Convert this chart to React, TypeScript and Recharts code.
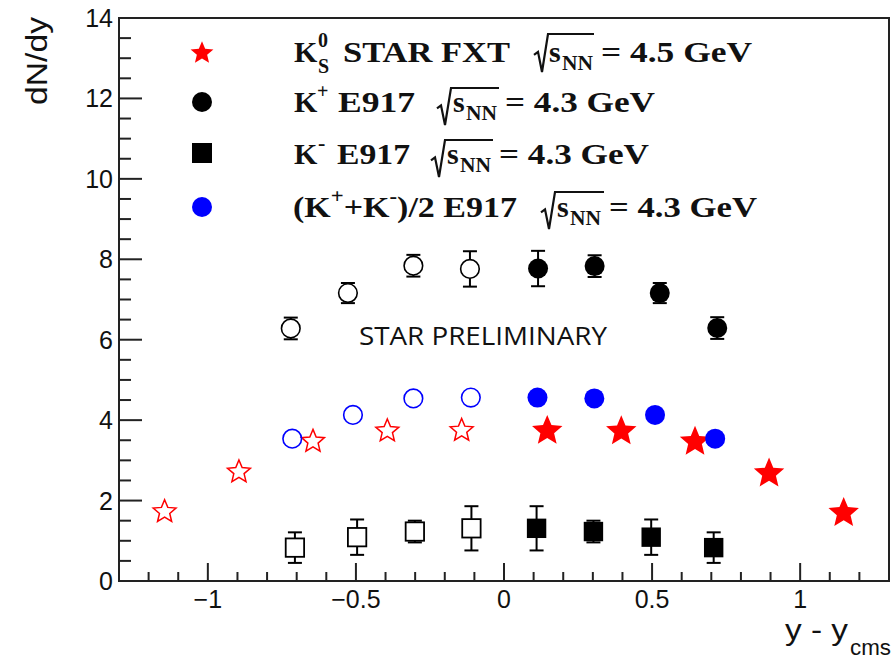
import React from 'react';
import { ScatterChart, Scatter, XAxis, YAxis, ErrorBar, ReferenceArea } from 'recharts';

// ---- data ----
// K+ E917 (measured, filled)
const kPlusRapidity = [0.115, 0.306, 0.526, 0.72];
const kPlusYield = [7.77, 7.83, 7.16, 6.29];
const kPlusError = [0.44, 0.27, 0.25, 0.27];
// K+ E917 (reflected, open)
const kPlusReflRapidity = [-0.72, -0.527, -0.306, -0.115];
const kPlusReflYield = [6.28, 7.16, 7.84, 7.76];
const kPlusReflError = [0.27, 0.25, 0.27, 0.44];

// K- E917 (measured, filled)
const kMinusRapidity = [0.11, 0.302, 0.497, 0.708];
const kMinusYield = [1.31, 1.23, 1.09, 0.83];
const kMinusError = [0.55, 0.27, 0.44, 0.38];
// K- E917 (reflected, open)
const kMinusReflRapidity = [-0.706, -0.496, -0.301, -0.11];
const kMinusReflYield = [0.83, 1.09, 1.23, 1.31];
const kMinusReflError = [0.38, 0.44, 0.27, 0.55];

// (K+ + K-)/2 E917 (measured, filled)
const kAvgRapidity = [0.113, 0.305, 0.51, 0.713];
const kAvgYield = [4.56, 4.54, 4.13, 3.54];
// (K+ + K-)/2 E917 (reflected, open)
const kAvgReflRapidity = [-0.715, -0.51, -0.306, -0.112];
const kAvgReflYield = [3.54, 4.13, 4.54, 4.56];

// K0S STAR FXT (measured, filled)
const k0sRapidity = [0.146, 0.396, 0.645, 0.895, 1.147];
const k0sYield = [3.77, 3.76, 3.5, 2.71, 1.73];
// K0S STAR FXT (reflected, open)
const k0sReflRapidity = [-1.146, -0.895, -0.645, -0.394, -0.143];
const k0sReflYield = [1.75, 2.74, 3.5, 3.76, 3.77];

// axis ticks
const xTicks = [-1.2, -1.1, -1.0, -0.9, -0.8, -0.7, -0.6, -0.5, -0.4, -0.3, -0.2, -0.1, 0, 0.1, 0.2, 0.3, 0.4, 0.5, 0.6, 0.7, 0.8, 0.9, 1.0, 1.1, 1.2];
const xMajorTicks = [-1, -0.5, 0, 0.5, 1];
const xMajorLabels = ['\u22121', '\u22120.5', '0', '0.5', '1'];
const yTicks = [0, 0.5, 1, 1.5, 2, 2.5, 3, 3.5, 4, 4.5, 5, 5.5, 6, 6.5, 7, 7.5, 8, 8.5, 9, 9.5, 10, 10.5, 11, 11.5, 12, 12.5, 13, 13.5, 14];
const yMajorTicks = [0, 2, 4, 6, 8, 10, 12, 14];
const yMajorLabels = ['0', '2', '4', '6', '8', '10', '12', '14'];

const X_DOMAIN = [-1.3, 1.3];
const Y_DOMAIN = [0, 14];

const build = (xs: number[], ys: number[], errs?: number[]) =>
  xs.map((x, i) => ({ x, y: ys[i], err: errs ? errs[i] : 0 }));

const kPlusData = build(kPlusRapidity, kPlusYield, kPlusError);
const kPlusReflData = build(kPlusReflRapidity, kPlusReflYield, kPlusReflError);
const kMinusData = build(kMinusRapidity, kMinusYield, kMinusError);
const kMinusReflData = build(kMinusReflRapidity, kMinusReflYield, kMinusReflError);
const kAvgData = build(kAvgRapidity, kAvgYield);
const kAvgReflData = build(kAvgReflRapidity, kAvgReflYield);
const k0sData = build(k0sRapidity, k0sYield);
const k0sReflData = build(k0sReflRapidity, k0sReflYield);

const AXIS_COLOR = '#222';
const SANS = '"Liberation Sans", Arial, sans-serif';
const SERIF = '"Liberation Serif", "Times New Roman", serif';

function starPath(cx: number, cy: number, R: number, ratio: number) {
  const r = R * ratio;
  const c = cy + 0.095 * R;
  let d = '';
  for (let i = 0; i < 10; i++) {
    const a = -Math.PI / 2 + (i * Math.PI) / 5;
    const rad = i % 2 === 0 ? R : r;
    d += (i === 0 ? 'M' : 'L') + (cx + rad * Math.cos(a)).toFixed(2) + ',' + (c + rad * Math.sin(a)).toFixed(2);
  }
  return d + 'Z';
}

const NoShape = () => <g />;
const FilledCircle = (color: string) => (p: any) =>
  p.cx == null ? <g /> : <circle cx={p.cx} cy={p.cy} r={10} fill={color} />;
const OpenCircle = (color: string, fill: string) => (p: any) =>
  p.cx == null ? <g /> : <circle cx={p.cx} cy={p.cy} r={9.3} fill={fill} stroke={color} strokeWidth={1.6} />;
const FilledSquare = (p: any) =>
  p.cx == null ? <g /> : <rect x={p.cx - 9.7} y={p.cy - 9.7} width={19.4} height={19.4} fill="#000" />;
const OpenSquare = (p: any) =>
  p.cx == null ? <g /> : <rect x={p.cx - 9.2} y={p.cy - 9.2} width={18.4} height={18.4} fill="#fff" stroke="#000" strokeWidth={1.8} />;
const FilledStar = (p: any) =>
  p.cx == null ? <g /> : <path d={starPath(p.cx, p.cy, 16, 0.45)} fill="#ff0000" />;
const OpenStar = (p: any) =>
  p.cx == null ? <g /> : <path d={starPath(p.cx, p.cy, 12, 0.45)} fill="none" stroke="#ff0000" strokeWidth={1.5} />;

const isMajor = (list: number[], v: number) => list.findIndex((m) => Math.abs(m - v) < 1e-6);

const XTick = (props: any) => {
  const { x, y, payload } = props;
  const idx = isMajor(xMajorTicks, payload.value);
  const major = idx >= 0;
  return (
    <g>
      <line x1={x} x2={x} y1={y} y2={y - (major ? 18 : 9)} stroke={AXIS_COLOR} strokeWidth={2} />
      {major && (
        <text x={x} y={y + 27} textAnchor="middle" fontFamily={SANS} fontSize={25} fill="#111">
          {xMajorLabels[idx]}
        </text>
      )}
    </g>
  );
};

const YTick = (props: any) => {
  const { x, y, payload } = props;
  const idx = isMajor(yMajorTicks, payload.value);
  const major = idx >= 0;
  return (
    <g>
      <line x1={x} x2={x + (major ? 23 : 12)} y1={y} y2={y} stroke={AXIS_COLOR} strokeWidth={2} />
      {major && (
        <text x={x - 6} y={y + 9} textAnchor="end" fontFamily={SANS} fontSize={25} fill="#111">
          {yMajorLabels[idx]}
        </text>
      )}
    </g>
  );
};

const LEG = { fontFamily: SERIF, fontWeight: 700 as const, fill: '#111' };

const Radical = ({ x0, top, bottom, end }: { x0: number; top: number; bottom: number; end: number }) => {
  const mid = top + (bottom - top) * 0.55;
  return (
    <path
      d={`M${x0},${mid} L${x0 + 4},${mid - 3} L${x0 + 8},${bottom} L${x0 + 14},${top} L${end},${top}`}
      fill="none"
      stroke="#111"
      strokeWidth={2.2}
      strokeLinejoin="miter"
    />
  );
};

const Overlay = () => (
  <svg width={895} height={659} style={{ position: 'absolute', left: 0, top: 0, pointerEvents: 'none' }}>
    {/* axis titles */}
    <text
      transform="translate(47,61) rotate(-90)"
      textAnchor="middle"
      fontFamily={SANS}
      fontSize={30}
      fill="#111"
      textLength={88}
      lengthAdjust="spacingAndGlyphs"
    >
      dN/dy
    </text>
    <text x={785} y={640} fontFamily={SANS} fontSize={29} fill="#111" textLength={63} lengthAdjust="spacingAndGlyphs">
      y - y
    </text>
    <text x={850} y={655} fontFamily={SANS} fontSize={22} fill="#111" textLength={41} lengthAdjust="spacingAndGlyphs">
      cms
    </text>

    {/* STAR PRELIMINARY */}
    <text x={359} y={345} fontFamily='"Open Sans", sans-serif' fontSize={26} fill="#111" textLength={248} lengthAdjust="spacingAndGlyphs">
      STAR PRELIMINARY
    </text>

    {/* legend markers */}
    <path d={starPath(202, 52, 12, 0.45)} fill="#ff0000" />
    <circle cx={202} cy={102} r={10} fill="#000" />
    <rect x={192} y={143} width={20} height={20} fill="#000" />
    <circle cx={202} cy={207} r={10} fill="#0000ff" />

    {/* legend line 1 */}
    <text x={294} y={62} fontSize={30} {...LEG}>K</text>
    <text x={318} y={47} fontSize={20} {...LEG}>0</text>
    <text x={318} y={73} fontSize={20} {...LEG}>S</text>
    <text x={343} y={62} fontSize={30} {...LEG} textLength={167} lengthAdjust="spacingAndGlyphs">STAR FXT</text>
    <Radical x0={534} top={34} bottom={72} end={594} />
    <text x={549} y={62} fontSize={30} {...LEG}>s</text>
    <text x={562} y={70} fontSize={20} {...LEG} textLength={31} lengthAdjust="spacingAndGlyphs">NN</text>
    <text x={601} y={62} fontSize={30} {...LEG} textLength={151} lengthAdjust="spacingAndGlyphs">= 4.5 GeV</text>

    {/* legend line 2 */}
    <text x={294} y={112} fontSize={30} {...LEG}>K</text>
    <text x={317} y={98} fontSize={20} {...LEG}>+</text>
    <text x={338} y={112} fontSize={30} {...LEG} textLength={77} lengthAdjust="spacingAndGlyphs">E917</text>
    <Radical x0={437} top={88} bottom={125} end={499} />
    <text x={453} y={112} fontSize={30} {...LEG}>s</text>
    <text x={466} y={120} fontSize={20} {...LEG} textLength={31} lengthAdjust="spacingAndGlyphs">NN</text>
    <text x={505} y={112} fontSize={30} {...LEG} textLength={150} lengthAdjust="spacingAndGlyphs">= 4.3 GeV</text>

    {/* legend line 3 */}
    <text x={294} y={164} fontSize={30} {...LEG}>K</text>
    <text x={318} y={150} fontSize={22} {...LEG}>-</text>
    <text x={337} y={164} fontSize={30} {...LEG} textLength={73} lengthAdjust="spacingAndGlyphs">E917</text>
    <Radical x0={431} top={140} bottom={177} end={493} />
    <text x={447} y={164} fontSize={30} {...LEG}>s</text>
    <text x={460} y={172} fontSize={20} {...LEG} textLength={31} lengthAdjust="spacingAndGlyphs">NN</text>
    <text x={499} y={164} fontSize={30} {...LEG} textLength={150} lengthAdjust="spacingAndGlyphs">= 4.3 GeV</text>

    {/* legend line 4 */}
    <text x={293} y={217} fontSize={30} {...LEG} textLength={224} lengthAdjust="spacingAndGlyphs">
      (K<tspan dy={-14} fontSize={20}>+</tspan>
      <tspan dy={14}>+K</tspan>
      <tspan dy={-14} fontSize={20}>-</tspan>
      <tspan dy={14}>)/2 E917</tspan>
    </text>
    <Radical x0={541} top={192} bottom={229} end={604} />
    <text x={557} y={217} fontSize={30} {...LEG}>s</text>
    <text x={570} y={225} fontSize={20} {...LEG} textLength={31} lengthAdjust="spacingAndGlyphs">NN</text>
    <text x={609} y={217} fontSize={30} {...LEG} textLength={148} lengthAdjust="spacingAndGlyphs">= 4.3 GeV</text>
  </svg>
);

const EB = <ErrorBar dataKey="err" direction="y" width={7} stroke="#000" strokeWidth={2} />;

export default function App() {
  return (
    <div style={{ position: 'absolute', left: 0, top: 0, width: 895, height: 659, background: '#fff' }}>
      <ScatterChart width={895} height={659} margin={{ top: 18, right: 6, bottom: 0, left: 0 }}>
        <XAxis
          type="number"
          dataKey="x"
          domain={X_DOMAIN}
          ticks={xTicks}
          interval={0}
          tickSize={0}
          tickMargin={0}
          tickLine={false}
          tick={XTick}
          height={78}
          axisLine={{ stroke: AXIS_COLOR, strokeWidth: 2 }}
          allowDataOverflow
        />
        <YAxis
          type="number"
          dataKey="y"
          domain={Y_DOMAIN}
          ticks={yTicks}
          interval={0}
          tickSize={0}
          tickMargin={0}
          tickLine={false}
          tick={YTick}
          width={119}
          axisLine={{ stroke: AXIS_COLOR, strokeWidth: 2 }}
          allowDataOverflow
        />
        <ReferenceArea x1={-1.3} x2={1.3} y1={0} y2={14} fill="none" stroke={AXIS_COLOR} strokeWidth={2} fillOpacity={0} />

        {/* error bars first, so the markers are drawn over them */}
        <Scatter data={kMinusReflData} shape={NoShape} isAnimationActive={false}>{EB}</Scatter>
        <Scatter data={kMinusData} shape={NoShape} isAnimationActive={false}>{EB}</Scatter>
        <Scatter data={kPlusReflData} shape={NoShape} isAnimationActive={false}>{EB}</Scatter>
        <Scatter data={kPlusData} shape={NoShape} isAnimationActive={false}>{EB}</Scatter>

        <Scatter data={k0sReflData} shape={OpenStar} isAnimationActive={false} />
        <Scatter data={k0sData} shape={FilledStar} isAnimationActive={false} />

        <Scatter data={kMinusReflData} shape={OpenSquare} isAnimationActive={false} />
        <Scatter data={kMinusData} shape={FilledSquare} isAnimationActive={false} />

        <Scatter data={kPlusReflData} shape={OpenCircle('#000', '#fff')} isAnimationActive={false} />
        <Scatter data={kPlusData} shape={FilledCircle('#000')} isAnimationActive={false} />

        <Scatter data={kAvgReflData} shape={OpenCircle('#0000ff', 'none')} isAnimationActive={false} />
        <Scatter data={kAvgData} shape={FilledCircle('#0000ff')} isAnimationActive={false} />
      </ScatterChart>
      <Overlay />
    </div>
  );
}
